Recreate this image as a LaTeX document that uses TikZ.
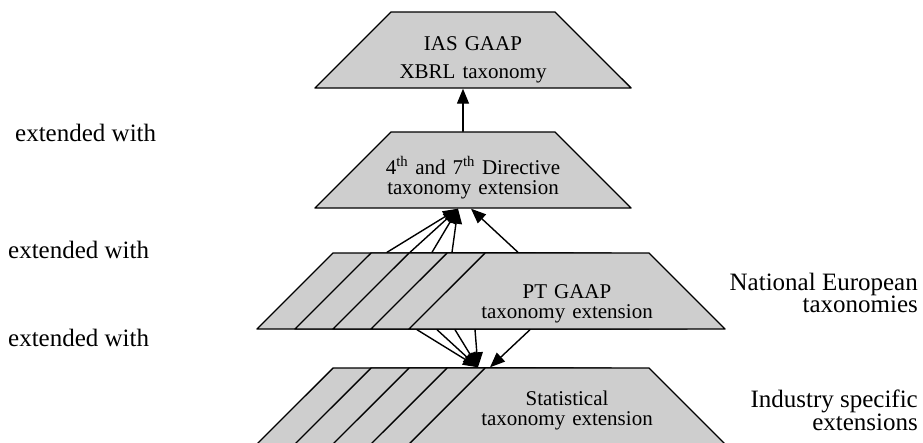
\documentclass[tikz,border=0pt]{standalone}
\usepackage{fontspec}
\setmainfont{Liberation Serif}
\usetikzlibrary{shapes.geometric,arrows.meta}
\definecolor{layergray}{RGB}{206,206,206}
% one centred line of a layer, allowed to run wider than the top side
\newcommand{\layertext}[1]{\makebox[164pt]{#1}}

\begin{document}
\begin{tikzpicture}[x=1pt, y=-1pt]
  \tikzstyle{myline}=[black, line width=1.4pt, line cap=round, line join=round];
  % trapezium round a fixed text box: top 164pt, bottom 316pt, height 76pt
  \tikzstyle{layer}=[myline, draw, fill=layergray, trapezium, trapezium angle=45,
    inner sep=0pt, text width=164pt, text height=38pt, text depth=38pt,
    align=center, font=\fontsize{21}{20}\selectfont];
  \tikzstyle{ext}=[myline, -{Triangle[length=15pt, width=12pt]}];
  \tikzstyle{side}=[inner sep=0pt, font=\fontsize{25}{21}\selectfont];
  \useasboundingbox (0, 0) rectangle (923, 442);
  %
  % IAS GAAP base taxonomy
  \node[layer] (ias) at (473, 50)
    {\layertext{IAS GAAP}\\[8pt] \layertext{XBRL taxonomy}};
  %
  % directive extension
  \node[layer, text height=42pt, text depth=34pt] (dir) at (473, 170)
    {\layertext{4\textsuperscript{th} and 7\textsuperscript{th} Directive}\\
     \layertext{taxonomy extension}};
  \draw[ext] ([xshift=-10pt]dir.top side) -- ([xshift=-10pt]ias.bottom side);
  %
  % national taxonomies, stacked
  \foreach \k in {1,...,4}
    \node[layer] (nat\k) at (377+38*\k, 291) {};
  \node[layer, text height=45pt, text depth=31pt] (nat) at (567, 291)
    {\layertext{PT GAAP}\\ \layertext{taxonomy extension}};
  \foreach \k/\dx in {1/-28, 2/-43, 3/-59, 4/-77}
    \draw[ext] ([xshift=\dx pt]nat\k.top side) -- ([xshift=-15pt]dir.bottom side);
  \draw[ext] ([xshift=-49pt]nat.top side) -- ([xshift=-2pt]dir.bottom side);
  %
  % industry specific extensions, stacked
  \foreach \k in {1,...,4}
    \node[layer] (ind\k) at (377+38*\k, 406) {};
  \node[layer, text height=37pt, text depth=39pt] (ind) at (567, 406)
    {\layertext{Statistical}\\ \layertext{taxonomy extension}};
  \foreach \k/\dx in {1/2, 2/-16, 3/-36, 4/-54}
    \draw[ext] ([xshift=\dx pt]nat\k.bottom side) -- ([xshift=-89pt]ind.top side);
  \draw[ext] ([xshift=-37pt]nat.bottom side) -- ([xshift=-77pt]ind.top side);
  %
  % side labels
  \node[side, anchor=west] (ext1) at (15, 133) {extended with};
  \node[side, anchor=west] (ext2) at (8, 250) {extended with};
  \node[side, anchor=west] (ext3) at (8, 338) {extended with};
  \node[side, anchor=east, align=right] (natlab) at (918, 293)
    {National European\\ taxonomies};
  \node[side, anchor=east, align=right] (indlab) at (918, 410)
    {Industry specific\\ extensions};
\end{tikzpicture}
\end{document}
